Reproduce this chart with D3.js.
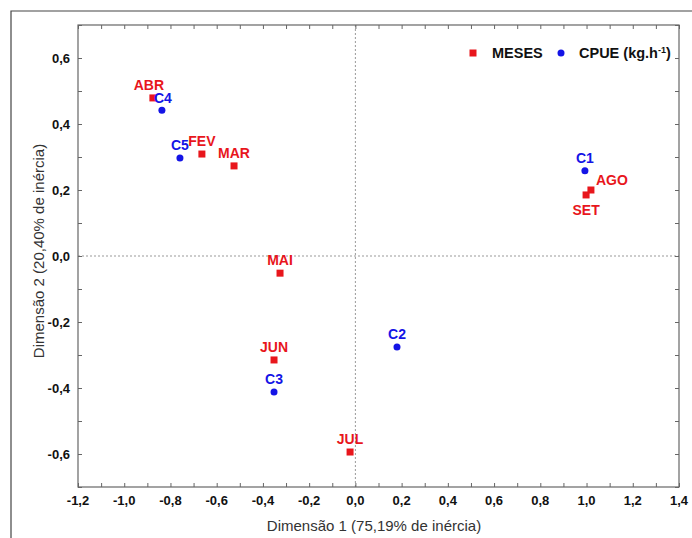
<!DOCTYPE html>
<html>
<head>
<meta charset="utf-8">
<script src="https://cdn.jsdelivr.net/npm/d3@7"></script>
<style>
body { margin: 0; background: #fff; }
svg text { font-family: "Liberation Sans", Arial, sans-serif; }
</style>
</head>
<body>
<svg id="chart" width="692" height="538"></svg>
<script>
// months (red squares)
const meses = ["ABR", "FEV", "MAR", "AGO", "SET", "MAI", "JUN", "JUL"];
const mesesX = [-0.876, -0.664, -0.525, 1.019, 0.998, -0.326, -0.352, -0.023];
const mesesY = [0.479, 0.309, 0.273, 0.200, 0.185, -0.052, -0.315, -0.594];
// CPUE classes (blue circles)
const cpue = ["C1", "C2", "C3", "C4", "C5"];
const cpueX = [0.993, 0.180, -0.352, -0.837, -0.759];
const cpueY = [0.258, -0.276, -0.412, 0.442, 0.297];

const xTicks = [-1.2, -1.0, -0.8, -0.6, -0.4, -0.2, 0.0, 0.2, 0.4, 0.6, 0.8, 1.0, 1.2, 1.4];
const yTicks = [-0.6, -0.4, -0.2, 0.0, 0.2, 0.4, 0.6];

const red = "#e8161c", blue = "#1414e6";
const svg = d3.select("#chart");
const m = {left: 78, right: 679, top: 25, bottom: 487};

const x = d3.scaleLinear().domain([-1.2, 1.4]).range([m.left, m.right]);
const y = d3.scaleLinear().domain([-0.7, 0.7]).range([m.bottom, m.top]);
const fmt = d => d3.format(".1f")(d).replace(".", ",").replace("−", "-");

// outer frame (top + left only)
svg.append("path").attr("d", "M11,538V11H692")
  .attr("fill", "none").attr("stroke", "#444").attr("stroke-width", 1.2);

// zero lines
svg.append("line").attr("x1", x(0)).attr("x2", x(0)).attr("y1", m.top).attr("y2", m.bottom)
  .attr("stroke", "#999").attr("stroke-dasharray", "2,2");
svg.append("line").attr("x1", m.left).attr("x2", m.right).attr("y1", y(0)).attr("y2", y(0))
  .attr("stroke", "#999").attr("stroke-dasharray", "2,2");

// axes with minor ticks every 0.1 pointing inward
const minorX = d3.range(-12, 15).map(d => d / 10);
const minorY = d3.range(-7, 8).map(d => d / 10);
function tickStyle(g) {
  g.select(".domain").remove();
  g.selectAll("line").attr("stroke", "#666");
}
svg.append("g").attr("transform", `translate(0,${m.bottom})`)
  .call(d3.axisBottom(x).tickValues(minorX).tickSize(-4).tickFormat(""))
  .call(tickStyle);
svg.append("g").attr("transform", `translate(0,${m.top})`)
  .call(d3.axisTop(x).tickValues(minorX).tickSize(-4).tickFormat(""))
  .call(tickStyle);
svg.append("g").attr("transform", `translate(${m.left},0)`)
  .call(d3.axisLeft(y).tickValues(minorY).tickSize(-4).tickFormat(""))
  .call(tickStyle);
svg.append("g").attr("transform", `translate(${m.right},0)`)
  .call(d3.axisRight(y).tickValues(minorY).tickSize(-4).tickFormat(""))
  .call(tickStyle);

svg.append("rect").attr("x", m.left).attr("y", m.top)
  .attr("width", m.right - m.left).attr("height", m.bottom - m.top)
  .attr("fill", "none").attr("stroke", "#666").attr("stroke-width", 1.2);

// tick labels
svg.append("g").selectAll("text").data(xTicks).join("text")
  .attr("x", d => x(d)).attr("y", 505).attr("text-anchor", "middle")
  .attr("font-size", 13).attr("font-weight", "bold").attr("fill", "#111")
  .text(fmt);
svg.append("g").selectAll("text").data(yTicks).join("text")
  .attr("x", 70).attr("y", d => y(d) + 4.5).attr("text-anchor", "end")
  .attr("font-size", 13).attr("font-weight", "bold").attr("fill", "#111")
  .text(fmt);

// axis titles
svg.append("text").attr("x", 374).attr("y", 531).attr("text-anchor", "middle")
  .attr("font-size", 15).attr("fill", "#333").text("Dimensão 1 (75,19% de inércia)");
svg.append("text").attr("transform", "translate(44,251) rotate(-90)").attr("text-anchor", "middle")
  .attr("font-size", 15).attr("fill", "#333").text("Dimensão 2 (20,40% de inércia)");

// points
const mesesData = meses.map((k, i) => ({k, x: mesesX[i], y: mesesY[i]}));
const cpueData = cpue.map((k, i) => ({k, x: cpueX[i], y: cpueY[i]}));

svg.append("g").selectAll("rect").data(mesesData).join("rect")
  .attr("x", d => x(d.x) - 3.5).attr("y", d => y(d.y) - 3.5)
  .attr("width", 7).attr("height", 7).attr("fill", red);
svg.append("g").selectAll("circle").data(cpueData).join("circle")
  .attr("cx", d => x(d.x)).attr("cy", d => y(d.y)).attr("r", 3.5).attr("fill", blue);

// label offsets (dx, dy, anchor)
const off = {
  ABR: [-4, -8, "middle"], AGO: [5, -5, "start"], SET: [0, 20, "middle"],
  C4: [1, -7, "middle"]
};
function label(d, color) {
  const o = off[d.k] || [0, -8, "middle"];
  return {x: x(d.x) + o[0], y: y(d.y) + o[1], a: o[2], k: d.k, c: color};
}
const labels = mesesData.map(d => label(d, red)).concat(cpueData.map(d => label(d, blue)));
svg.append("g").selectAll("text").data(labels).join("text")
  .attr("x", d => d.x).attr("y", d => d.y).attr("text-anchor", d => d.a)
  .attr("font-size", 14).attr("font-weight", "bold").attr("fill", d => d.c)
  .text(d => d.k);

// legend
const lg = svg.append("g").attr("font-size", 14.5).attr("font-weight", "bold").attr("fill", "#111");
lg.append("rect").attr("x", 469.5).attr("y", 49.5).attr("width", 7).attr("height", 7).attr("fill", red);
lg.append("text").attr("x", 492).attr("y", 58).text("MESES");
lg.append("circle").attr("cx", 561).attr("cy", 53).attr("r", 3.5).attr("fill", blue);
const t = lg.append("text").attr("x", 579).attr("y", 58);
t.append("tspan").text("CPUE (kg.h");
t.append("tspan").attr("dy", -5).attr("font-size", 9).text("-1");
t.append("tspan").attr("dy", 5).text(")");
</script>
</body>
</html>
